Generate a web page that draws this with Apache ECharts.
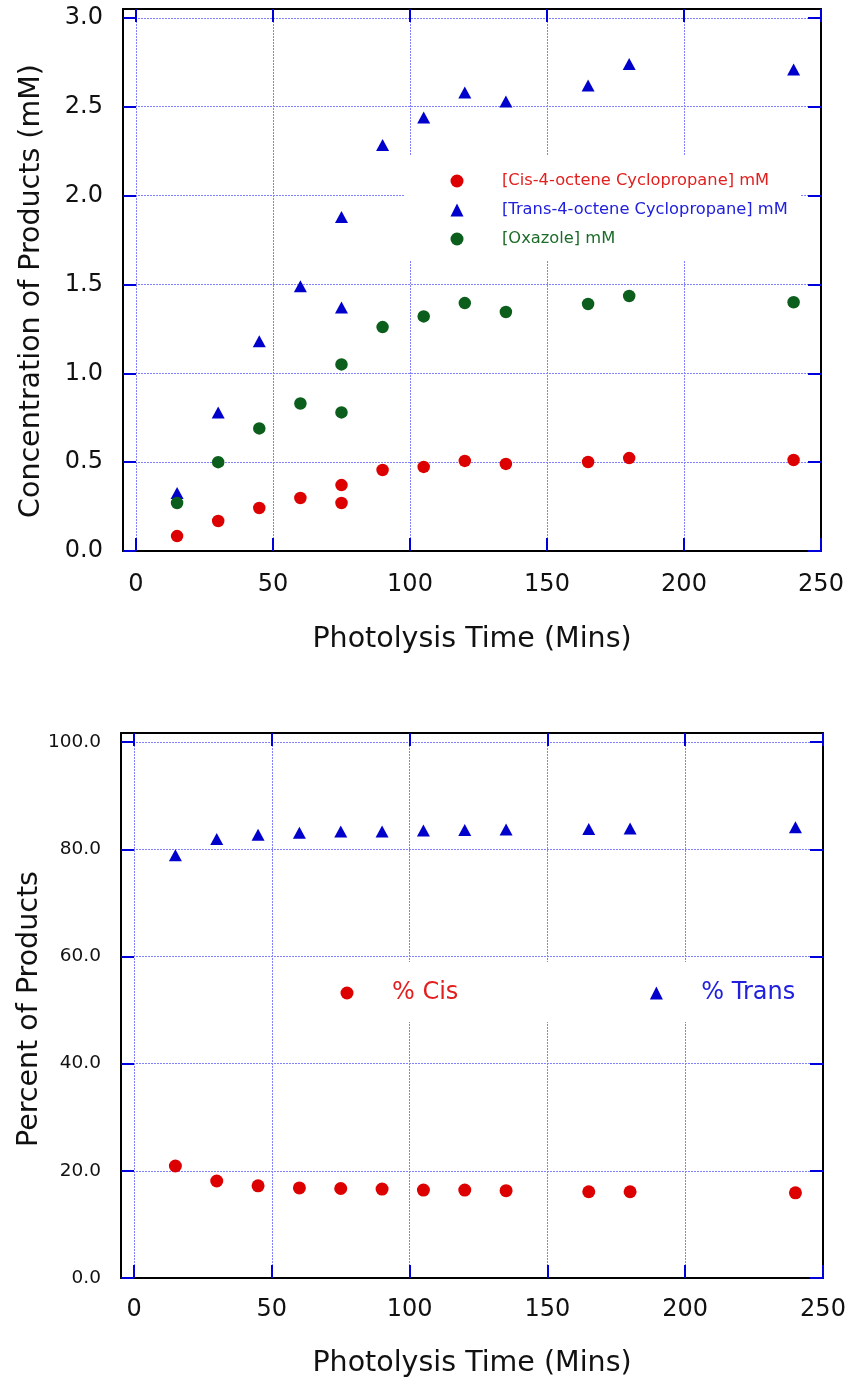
<!DOCTYPE html>
<html>
<head>
<meta charset="utf-8">
<script src="https://cdn.jsdelivr.net/npm/echarts@6/dist/echarts.min.js"></script>
<style>
html,body{margin:0;padding:0;background:#fff;}
#chart{width:850px;height:1386px;}
</style>
</head>
<body>
<div id="chart"></div>
<script>
// ---- Data ----
const timesTop = [15, 30, 45, 60, 75, 75, 90, 105, 120, 135, 165, 180, 240];
const cisConc = [0.084, 0.169, 0.242, 0.298, 0.371, 0.270, 0.456, 0.473, 0.507, 0.490, 0.501, 0.523, 0.512];
const transConc = [0.326, 0.78, 1.18, 1.49, 1.88, 1.37, 2.285, 2.44, 2.58, 2.53, 2.62, 2.74, 2.71];
const oxazoleConc = [0.27, 0.50, 0.69, 0.83, 1.05, 0.78, 1.26, 1.32, 1.395, 1.345, 1.39, 1.435, 1.40];

const timesBottom = [15, 30, 45, 60, 75, 90, 105, 120, 135, 165, 180, 240];
const cisPct = [20.9, 18.1, 17.2, 16.8, 16.7, 16.6, 16.4, 16.4, 16.3, 16.1, 16.1, 15.9];
const transPct = [78.9, 81.9, 82.7, 83.1, 83.3, 83.3, 83.5, 83.6, 83.7, 83.8, 83.9, 84.1];

const xTicks = [0, 50, 100, 150, 200, 250];
const yTicksTop = [0, 0.5, 1.0, 1.5, 2.0, 2.5, 3.0];
const yTicksBottom = [0, 20, 40, 60, 80, 100];

const topNames = ['[Cis-4-octene Cyclopropane] mM', '[Trans-4-octene Cyclopropane] mM', '[Oxazole] mM'];
const bottomNames = ['% Cis', '% Trans'];
const xTitle = 'Photolysis Time (Mins)';
const yTitleTop = 'Concentration of Products (mM)';
const yTitleBottom = 'Percent of Products';

// ---- Styling ----
const FONT = 'DejaVu Sans';
const RED = '#dd0000', BLUE = '#0000cc', GREEN = '#0c5e1c';
const RED_T = '#e21f1f', BLUE_T = '#2020dd', GREEN_T = '#1d6b29';
const TICK_BLUE = '#0000dd';
const GRID_BLUE = '#8282ff';

function zip(xs, ys) { return xs.map((x, i) => [x, ys[i]]); }

function mainX(gridIndex, labelMargin, nameGap) {
  return {
    type: 'value', gridIndex: gridIndex, position: 'bottom',
    min: -4.74, max: 250,
    axisLine: { show: true, onZero: false, lineStyle: { color: '#000', width: 2 } },
    axisTick: { show: true, inside: true, length: 13, customValues: xTicks, lineStyle: { color: TICK_BLUE, width: 2 } },
    axisLabel: { show: true, customValues: xTicks, margin: labelMargin, fontFamily: FONT, fontSize: 24, color: '#111',
      formatter: v => String(v) },
    splitLine: { show: true, lineStyle: { color: GRID_BLUE, type: [2, 1], width: 1 } },
    name: xTitle, nameLocation: 'middle', nameGap: nameGap, nameMoveOverlap: false,
    nameTextStyle: { fontFamily: FONT, fontSize: 28.5, color: '#111' }
  };
}
function topX(gridIndex) {
  return {
    type: 'value', gridIndex: gridIndex, position: 'top',
    min: -4.74, max: 250,
    axisLine: { show: true, onZero: false, lineStyle: { color: '#000', width: 2 } },
    axisTick: { show: true, inside: true, length: 13, customValues: xTicks, lineStyle: { color: TICK_BLUE, width: 2 } },
    axisLabel: { show: false, customValues: xTicks },
    splitLine: { show: false }
  };
}
function leftY(gridIndex, max, ticks, fontSize, digits, title, nameGap, shift) {
  return {
    type: 'value', gridIndex: gridIndex, position: 'left',
    min: 0, max: max,
    axisLine: { show: true, onZero: false, lineStyle: { color: '#000', width: 2 } },
    axisTick: { show: true, inside: true, length: 13, customValues: ticks, lineStyle: { color: TICK_BLUE, width: 2 } },
    axisLabel: { show: true, customValues: ticks, margin: 20, fontFamily: FONT, fontSize: fontSize, color: '#111',
      formatter: v => Number(v).toFixed(digits) },
    splitLine: { show: true, lineStyle: { color: GRID_BLUE, type: [2, 1], width: 1 } },
    name: title, nameLocation: 'middle', nameGap: nameGap, nameMoveOverlap: false,
    nameTextStyle: { fontFamily: FONT, fontSize: 28.5, color: '#111', padding: [0, shift, 0, 0] }
  };
}
function rightY(gridIndex, max, ticks) {
  return {
    type: 'value', gridIndex: gridIndex, position: 'right',
    min: 0, max: max,
    axisLine: { show: true, onZero: false, lineStyle: { color: '#000', width: 2 } },
    axisTick: { show: true, inside: true, length: 13, customValues: ticks, lineStyle: { color: TICK_BLUE, width: 2 } },
    axisLabel: { show: false, customValues: ticks },
    splitLine: { show: false }
  };
}

const chart = echarts.init(document.getElementById('chart'), null, { renderer: 'canvas' });

const option = {
  backgroundColor: '#fff',
  animation: false,
  grid: [
    { left: 123, right: 29, top: 9, bottom: 835, containLabel: false },
    { left: 121, right: 27, top: 733, bottom: 108, containLabel: false }
  ],
  xAxis: [ mainX(0, 22, 74), topX(0), mainX(1, 20, 71), topX(1) ],
  yAxis: [
    leftY(0, 3.05, yTicksTop, 24, 1, yTitleTop, 77, 22),
    rightY(0, 3.05, yTicksTop),
    leftY(1, 101.7, yTicksBottom, 18.5, 1, yTitleBottom, 77, 7),
    rightY(1, 101.7, yTicksBottom)
  ],
  legend: [
    {
      orient: 'vertical', left: 404, top: 155,
      padding: [18, 13, 14, 46.5],
      backgroundColor: '#fff',
      itemWidth: 13, itemHeight: 13, itemGap: 13,
      selectedMode: false,
      textStyle: { fontFamily: FONT, fontSize: 16.3, lineHeight: 16, padding: [0, 0, 0, 33.5] },
      data: [
        { name: topNames[0], textStyle: { color: RED_T } },
        { name: topNames[1], textStyle: { color: BLUE_T } },
        { name: topNames[2], textStyle: { color: GREEN_T } }
      ]
    },
    {
      orient: 'horizontal', left: 300, top: 962,
      padding: [19, 22, 17, 40.5],
      backgroundColor: '#fff',
      itemWidth: 13, itemHeight: 13, itemGap: 191.5,
      selectedMode: false,
      textStyle: { fontFamily: FONT, fontSize: 24, lineHeight: 24, padding: [0, 0, 0, 33.5] },
      data: [
        { name: bottomNames[0], textStyle: { color: RED_T } },
        { name: bottomNames[1], textStyle: { color: BLUE_T } }
      ]
    }
  ],
  series: [
    { name: topNames[0], type: 'scatter', xAxisIndex: 0, yAxisIndex: 0, symbol: 'circle', symbolSize: 12.5,
      itemStyle: { color: RED, opacity: 1 }, data: zip(timesTop, cisConc) },
    { name: topNames[1], type: 'scatter', xAxisIndex: 0, yAxisIndex: 0, symbol: 'triangle', symbolSize: [13, 12],
      itemStyle: { color: BLUE, opacity: 1 }, data: zip(timesTop, transConc) },
    { name: topNames[2], type: 'scatter', xAxisIndex: 0, yAxisIndex: 0, symbol: 'circle', symbolSize: 12.5,
      itemStyle: { color: GREEN, opacity: 1 }, data: zip(timesTop, oxazoleConc) },
    { name: bottomNames[0], type: 'scatter', xAxisIndex: 2, yAxisIndex: 2, symbol: 'circle', symbolSize: 13,
      itemStyle: { color: RED, opacity: 1 }, data: zip(timesBottom, cisPct) },
    { name: bottomNames[1], type: 'scatter', xAxisIndex: 2, yAxisIndex: 2, symbol: 'triangle', symbolSize: [13, 12],
      itemStyle: { color: BLUE, opacity: 1 }, data: zip(timesBottom, transPct) }
  ]
};
chart.setOption(option);
</script>
</body>
</html>
